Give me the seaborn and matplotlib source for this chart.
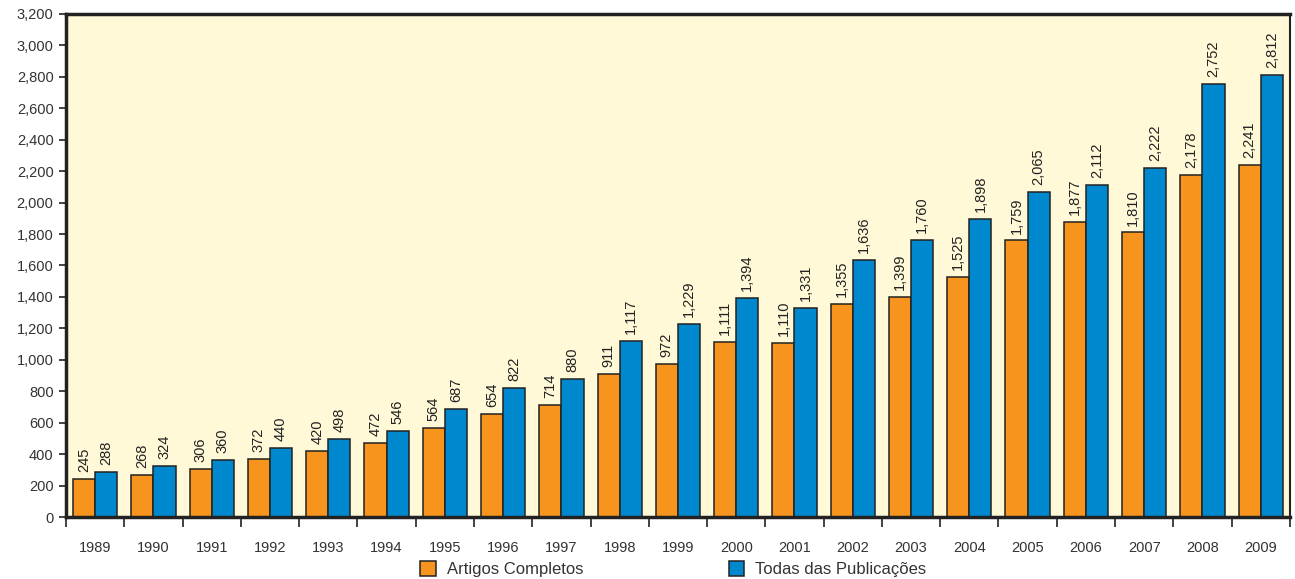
import pandas as pd
import matplotlib
matplotlib.use("Agg")
import matplotlib.pyplot as plt
import seaborn as sns
from matplotlib.ticker import FixedLocator, FuncFormatter

# Data
years = [str(y) for y in range(1989, 2010)]
artigos = [245, 268, 306, 372, 420, 472, 564, 654, 714, 911, 972,
           1111, 1110, 1355, 1399, 1525, 1759, 1877, 1810, 2178, 2241]
todas = [288, 324, 360, 440, 498, 546, 687, 822, 880, 1117, 1229,
         1394, 1331, 1636, 1760, 1898, 2065, 2112, 2222, 2752, 2812]
series_names = ["Artigos Completos", "Todas das Publicações"]
y_ticks = list(range(0, 3201, 200))

df = pd.DataFrame({
    "ano": years * 2,
    "valor": artigos + todas,
    "serie": [series_names[0]] * len(years) + [series_names[1]] * len(years),
})

sns.set_theme(style="white")
plt.rcParams["font.family"] = ["Liberation Sans", "DejaVu Sans"]

fig = plt.figure(figsize=(12.95, 5.79), dpi=100)
ax = fig.add_axes([0.051, 0.107, 0.945, 0.869])
ax.set_facecolor("#FFF9D8")

sns.barplot(data=df, x="ano", y="valor", hue="serie", ax=ax,
            palette=["#F7941D", "#0088CE"], width=0.76,
            edgecolor="#222222", linewidth=1.1, saturation=1)

# Value labels above the bars
for cont in ax.containers:
    vals = [int(b.get_height()) for b in cont]
    ax.bar_label(cont, labels=[f"{v:,}" for v in vals], rotation=90,
                 padding=5, fontsize=10.5, color="#222222")

ax.set_xlim(-0.5, len(years) - 0.5)
ax.set_ylim(0, 3200)
ax.yaxis.set_major_locator(FixedLocator(y_ticks))
ax.yaxis.set_major_formatter(FuncFormatter(lambda v, p: f"{int(v):,}"))
ax.tick_params(axis="y", which="major", left=True, length=5, width=1.2,
               color="#222222", labelsize=10.5, labelcolor="#333333", pad=4)

# Year labels at centres, tick marks at group boundaries
ax.set_xticks(range(len(years)))
ax.set_xticklabels(years)
ax.set_xticks([i - 0.5 for i in range(len(years) + 1)], minor=True)
ax.tick_params(axis="x", which="major", length=0, labelsize=10.5,
               labelcolor="#333333", pad=17)
ax.tick_params(axis="x", which="minor", bottom=True, length=7, width=1.2,
               color="#222222")

ax.set_xlabel("")
ax.set_ylabel("")

for side in ["left", "top", "bottom"]:
    ax.spines[side].set_visible(True)
    ax.spines[side].set_color("#222222")
    ax.spines[side].set_linewidth(2.5)
ax.spines["right"].set_color("#222222")
ax.spines["right"].set_linewidth(1.5)

handles, labels = ax.get_legend_handles_labels()
ax.get_legend().remove()
fig.legend(handles, labels, loc="center", bbox_to_anchor=(0.520, 0.017),
           ncol=2, frameon=False, fontsize=12, handlelength=0.95,
           handleheight=0.95, columnspacing=8.7, handletextpad=0.65,
           labelcolor="#333333")

fig.savefig("out.png", dpi=100, facecolor="white")
